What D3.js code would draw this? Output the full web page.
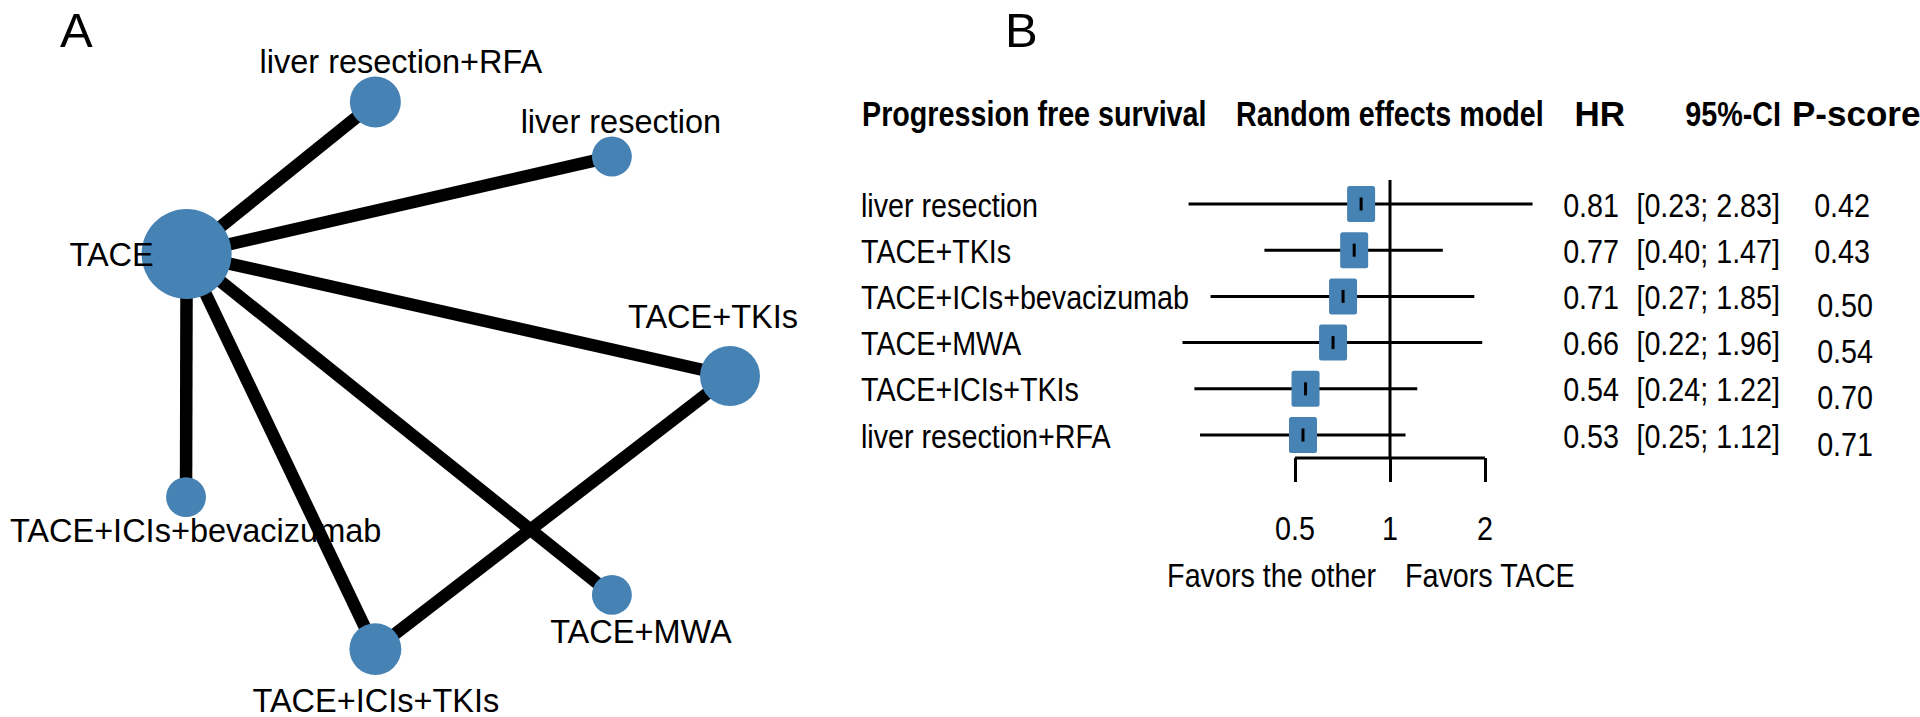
<!DOCTYPE html>
<html>
<head>
<meta charset="utf-8">
<script src="https://cdn.jsdelivr.net/npm/d3@7"></script>
<style>
  html, body { margin: 0; padding: 0; background: #fff; }
  svg { display: block; }
  text { fill: #000; }
</style>
</head>
<body>
<svg id="chart" width="1920" height="717"></svg>
<script>
// ---------------- DATA ----------------
// Panel A: network graph (nodes in netgraph layout units, size = node size units)
const nodeNames = ["TACE+TKIs", "liver resection", "liver resection+RFA", "TACE",
                   "TACE+ICIs+bevacizumab", "TACE+ICIs+TKIs", "TACE+MWA"];
const nodeX = [1.0, 0.587, -0.240, -0.900, -0.902, -0.240, 0.587];
const nodeY = [0.0, 0.781, 0.975, 0.434, -0.431, -0.972, -0.779];
const nodeSize = [2.0, 1.33, 1.7, 3.0, 1.33, 1.73, 1.33];
const edgeFrom = ["TACE", "TACE", "TACE", "TACE", "TACE", "TACE", "TACE+TKIs"];
const edgeTo = ["liver resection+RFA", "liver resection", "TACE+TKIs", "TACE+ICIs+bevacizumab",
                "TACE+ICIs+TKIs", "TACE+MWA", "TACE+ICIs+TKIs"];

// Panel B: forest plot
const outcomeTitle = "Progression free survival";
const treatments = ["liver resection", "TACE+TKIs", "TACE+ICIs+bevacizumab",
                    "TACE+MWA", "TACE+ICIs+TKIs", "liver resection+RFA"];
const hr = [0.81, 0.77, 0.71, 0.66, 0.54, 0.53];
const ciLower = [0.23, 0.40, 0.27, 0.22, 0.24, 0.25];
const ciUpper = [2.83, 1.47, 1.85, 1.96, 1.22, 1.12];
const pScore = [0.42, 0.43, 0.50, 0.54, 0.70, 0.71];
const axisTicks = [0.5, 1, 2];
const axisTickLabels = ["0.5", "1", "2"];

// ---------------- STYLE / LAYOUT ----------------
const BLUE = "#4682B4";
const svg = d3.select("#chart");
svg.append("rect").attr("width", 1920).attr("height", 717).attr("fill", "#fff");

function hasFont(name) {
  const c = document.createElement("canvas").getContext("2d");
  const s = "abcdefghijklmnopqrstuvwxyzABCDEFGHIJ0123456789";
  c.font = "40px monospace";
  const w0 = c.measureText(s).width;
  c.font = `40px "${name}", monospace`;
  const w1 = c.measureText(s).width;
  return Math.abs(w0 - w1) > 0.5;
}
const narrowOK = hasFont("Liberation Sans Narrow");
const REG = "'Liberation Sans', Arial, sans-serif";
const NARROW = narrowOK ? "'Liberation Sans Narrow', 'Liberation Sans', sans-serif" : REG;
const SX_HEAD = narrowOK ? 1 : 0.82;      // bold header condensation
const SX_BODY = narrowOK ? 1.06 : 0.87;   // regular text condensation

function txt(g, x, y, s, o) {
  return g.append("text")
    .attr("transform", `translate(${x},${y}) scale(${o.sx || 1},1)`)
    .attr("text-anchor", o.anchor || "start")
    .style("font-family", o.family || REG)
    .style("font-size", o.size + "px")
    .style("font-weight", o.weight || "normal")
    .text(s);
}

// ---------------- PANEL A ----------------
const gA = svg.append("g");
txt(gA, 60, 47, "A", {size: 49});

const sx = d3.scaleLinear().domain([-1, 1]).range([158, 730]);
const sy = d3.scaleLinear().domain([-1, 1]).range([657, 95]);
const sr = d3.scaleLinear().domain([0, 1]).range([0, 15]);

const nodes = nodeNames.map((n, i) => ({name: n, x: sx(nodeX[i]), y: sy(nodeY[i]), r: sr(nodeSize[i])}));
const byName = Object.fromEntries(nodes.map(d => [d.name, d]));
const edges = edgeFrom.map((f, i) => ({s: byName[f], t: byName[edgeTo[i]]}));

gA.append("g").selectAll("line").data(edges).join("line")
  .attr("x1", d => d.s.x).attr("y1", d => d.s.y)
  .attr("x2", d => d.t.x).attr("y2", d => d.t.y)
  .attr("stroke", "#000").attr("stroke-width", 12.5);

gA.append("g").selectAll("circle").data(nodes).join("circle")
  .attr("cx", d => d.x).attr("cy", d => d.y).attr("r", d => d.r)
  .attr("fill", BLUE);

// label placement relative to each node (pixels)
const labelOffset = {
  "TACE+TKIs": [-17, -48],
  "liver resection": [9, -23.5],
  "liver resection+RFA": [25.5, -29.3],
  "TACE": [-75, 12],
  "TACE+ICIs+bevacizumab": [9.6, 44.7],
  "TACE+ICIs+TKIs": [0.5, 62.5],
  "TACE+MWA": [29, 48]
};
nodes.forEach(d => {
  const o = labelOffset[d.name];
  txt(gA, d.x + o[0], d.y + o[1], d.name, {size: 32.5, anchor: "middle"});
});

// ---------------- PANEL B ----------------
const gB = svg.append("g");
txt(gB, 1005, 47, "B", {size: 49});

const headerY = 126;
const hOpt = {size: 35, weight: "bold", family: NARROW, sx: SX_HEAD};
txt(gB, 862, headerY, outcomeTitle, hOpt);
txt(gB, 1236, headerY, "Random effects model", hOpt);
txt(gB, 1625, headerY, "HR", {size: 35, weight: "bold", anchor: "end"});
txt(gB, 1781, headerY, "95%-CI", Object.assign({}, hOpt, {anchor: "end"}));
txt(gB, 1792, headerY, "P-score", {size: 35, weight: "bold"});

const x = d3.scaleLog().domain([0.5, 2]).range([1295, 1485]);
const y = d3.scalePoint().domain(treatments).range([204, 435]);
const rows = treatments.map((t, i) => ({t, hr: hr[i], lo: ciLower[i], hi: ciUpper[i], p: pScore[i], i}));

const rOpt = {size: 33, family: NARROW, sx: SX_BODY};
const f2 = d3.format(".2f");
rows.forEach(d => {
  const yc = y(d.t);
  txt(gB, 861, yc + 12.5, d.t, rOpt);
  txt(gB, 1619, yc + 12.5, f2(d.hr), Object.assign({}, rOpt, {anchor: "end"}));
  txt(gB, 1780, yc + 12.5, `[${f2(d.lo)}; ${f2(d.hi)}]`, Object.assign({}, rOpt, {anchor: "end"}));
  const shift = d.i >= 2 ? 8 : 0;
  txt(gB, 1870 + (shift ? 3 : 0), yc + 12.5 + shift, f2(d.p), Object.assign({}, rOpt, {anchor: "end"}));
});

// reference line
gB.append("line").attr("x1", x(1)).attr("x2", x(1)).attr("y1", 180).attr("y2", 458)
  .attr("stroke", "#000").attr("stroke-width", 3);

// CI lines
gB.append("g").selectAll("line").data(rows).join("line")
  .attr("x1", d => x(d.lo)).attr("x2", d => x(d.hi))
  .attr("y1", d => y(d.t)).attr("y2", d => y(d.t))
  .attr("stroke", "#000").attr("stroke-width", 3);

// boxes
const bw = 28, bh = 36;
gB.append("g").selectAll("rect").data(rows).join("rect")
  .attr("x", d => x(d.hr) - bw / 2).attr("y", d => y(d.t) - bh / 2)
  .attr("width", bw).attr("height", bh).attr("rx", 2.5)
  .attr("fill", BLUE);

// point estimate ticks
gB.append("g").selectAll("line").data(rows).join("line")
  .attr("x1", d => x(d.hr)).attr("x2", d => x(d.hr))
  .attr("y1", d => y(d.t) - 6.5).attr("y2", d => y(d.t) + 6.5)
  .attr("stroke", "#000").attr("stroke-width", 3);

// axis
const axisG = gB.append("g").attr("transform", "translate(0,458)");
axisG.call(d3.axisBottom(x).tickValues(axisTicks).tickFormat((d, i) => axisTickLabels[i])
  .tickSizeInner(24).tickSizeOuter(0).tickPadding(40));
axisG.select(".domain").attr("stroke", "#000").attr("stroke-width", 3).attr("d", `M${x(0.5)},0H${x(2)}`);
axisG.selectAll(".tick line").attr("stroke", "#000").attr("stroke-width", 3);
axisG.selectAll(".tick text").remove();
axisTicks.forEach((t, i) => txt(gB, x(t), 540, axisTickLabels[i], Object.assign({}, rOpt, {anchor: "middle"})));

txt(gB, 1376, 587, "Favors the other", Object.assign({}, rOpt, {anchor: "end"}));
txt(gB, 1405, 587, "Favors TACE", rOpt);
</script>
</body>
</html>
